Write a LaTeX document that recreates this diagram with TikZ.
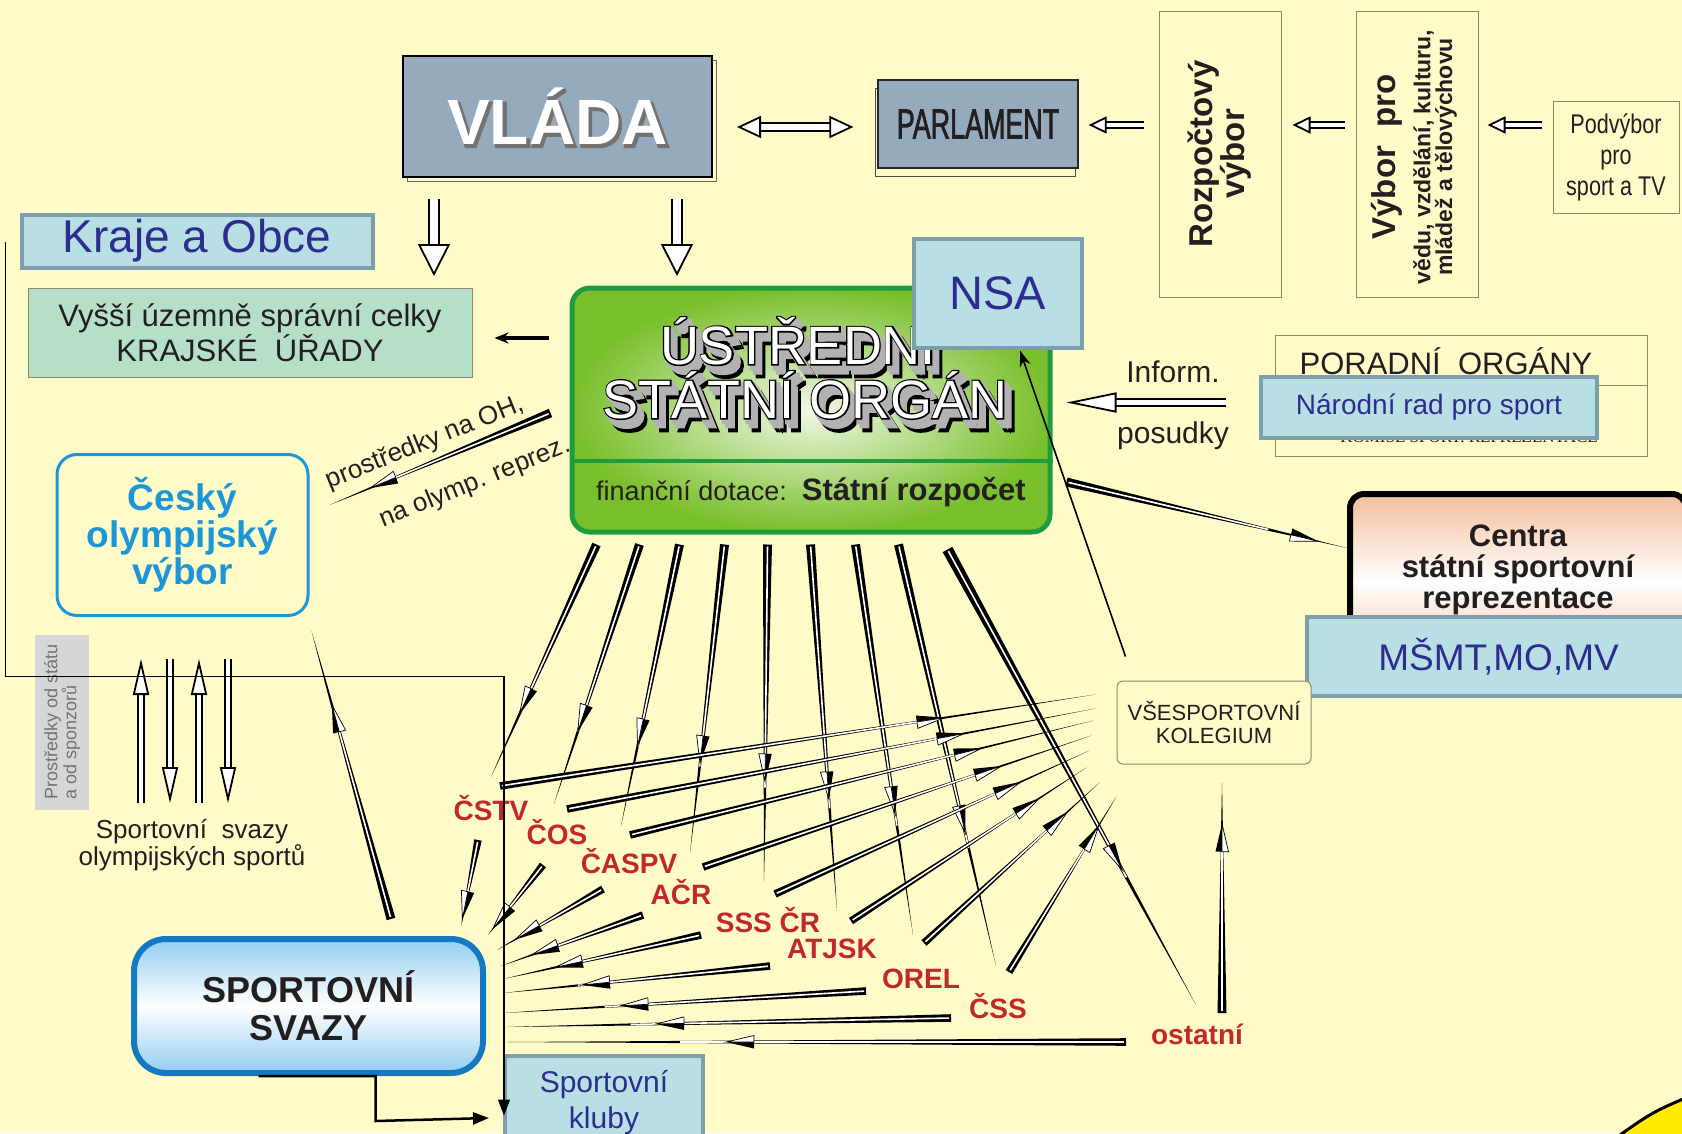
\documentclass[tikz,border=0pt]{standalone}
\usepackage{fontspec}
\setmainfont{Liberation Sans}
\newfontfamily\narrowfont{Liberation Sans}[FakeStretch=0.8]
\newfontfamily\parlfont{Liberation Sans}[FakeStretch=0.64, FakeBold=1.5]
\newfontfamily\komisefont{Liberation Serif}
\newfontfamily\vladarim{Liberation Sans}[FakeBold=4]
\newfontfamily\ustrim{Liberation Sans}[FakeBold=5]
\newfontfamily\ustdepth{Liberation Sans}[FakeBold=9]
\usetikzlibrary{arrows.meta,positioning,calc,shadows}

\definecolor{paper}{HTML}{FFFBC9}
\definecolor{vladagray}{HTML}{95ABBD}
\definecolor{cyanfill}{HTML}{B8E0E4}
\definecolor{cyanedge}{HTML}{7D9FAB}
\definecolor{inkblue}{HTML}{2E2C8F}
\definecolor{mintfill}{HTML}{B6DFC9}
\definecolor{boxolive}{HTML}{8C8A66}
\definecolor{ustgreen}{HTML}{79BF2B}
\definecolor{ustlight}{HTML}{F1F8E6}
\definecolor{ustedge}{HTML}{1E9C3E}
\definecolor{covblue}{HTML}{1B96D8}
\definecolor{svazblue}{HTML}{1479C3}
\definecolor{svazlight}{HTML}{93CDF1}
\definecolor{salmon}{HTML}{F4BE9D}
\definecolor{labred}{HTML}{C1272D}
\definecolor{ink}{HTML}{231F20}
\definecolor{sponsgray}{HTML}{D6D6D6}
\definecolor{corneryellow}{HTML}{FFEB00}

\newcommand{\fsz}[2]{\fontsize{#1}{#2}\selectfont}

% extruded title text
\newcommand{\blocktext}[2]{%
  \node[font=\ustdepth\fsz{54}{54}, text=black, inner sep=0] at ($(#1)+(9,11.7)$) {#2};
  \foreach \k in {6,3}{\node[font=\ustdepth\fsz{54}{54}, text=black!30, inner sep=0] at ($(#1)+(\k,\k*1.3)$) {#2};}
  \node[font=\ustrim\fsz{54}{54}, text=black, inner sep=0] at (#1) {#2};
  \node[ustfont, text=white] at (#1) {#2};}

% tapered arrow: half width, barb position, from, to
\newcommand{\needle}[4]{%
  \fill[black] ($(#3)!#1pt!90:(#4)$) -- (#4) -- ($(#3)!#1pt!-90:(#4)$) -- cycle;
  \draw[white, line width=1.6] ($(#3)!2pt!(#4)$) -- ($(#3)!0.72!(#4)$);
  \coordinate (nb) at ($(#3)!#2!(#4)$);
  \coordinate (nt) at ($(nb)!28pt!(#4)$);
  \fill[black] ($(nb)!6.5pt!90:(#4)$) -- (nt) -- (nb) -- cycle;
  \filldraw[fill=white, draw=black, line width=0.7] ($(nb)!6.5pt!-90:(#4)$) -- (nt) -- (nb) -- cycle;}

\begin{document}
\begin{tikzpicture}[x=1pt, y=-1pt,
    cyanbox/.style={draw=cyanedge, line width=4, fill=cyanfill, text=inkblue, inner sep=0},
    plainbox/.style={draw=boxolive, line width=1, fill=paper, text=ink, inner sep=0, align=center},
    redlabel/.style={text=labred, font=\bfseries\fsz{28}{28}, inner sep=0},
    ustfont/.style={font=\fsz{54}{54}, inner sep=0},
    hollow/.style={draw=black, line width=1.8, double=white, double distance=#1}
]
\useasboundingbox (0,0) rectangle (1682,1133);
\fill[paper] (0,0) rectangle (1682,1133);
\filldraw[fill=corneryellow, draw=black, line width=3] (1606,1145) .. controls (1652,1112) .. (1695,1094) -- (1695,1145) -- cycle;

% Government and parliament
\node[draw=black, line width=2, fill=vladagray, minimum width=309, minimum height=121,
  copy shadow={shadow xshift=4pt, shadow yshift=-4pt, fill=paper, draw=black!60, line width=0.8}] (vlada) at (557.5,116.5) {};
\node[font=\vladarim\bfseries\fsz{64}{64}, text=black!55, inner sep=0] (vladaS) at ($(vlada)+(2,2)$) {VLÁDA};
\node[font=\bfseries\fsz{64}{64}, text=white, inner sep=0] (vladaT) at (vlada) {VLÁDA};

\node[draw=black!85, line width=1.2, fill=vladagray, minimum width=200, minimum height=88,
  font=\parlfont\fsz{42}{42}, text=ink, inner sep=0,
  copy shadow={shadow xshift=-3pt, shadow yshift=-8pt, fill=paper, draw=black!70, line width=0.8}] (parl) at (978,124) {PARLAMENT};

\node[plainbox, minimum width=122, minimum height=286] (rozp) at (1220,154) {};
\node[rotate=90, font=\bfseries\fsz{33}{31}, align=center, text=ink, inner sep=0] (rozpT) at (rozp) {Rozpočtový\\výbor};

\node[plainbox, minimum width=122, minimum height=286] (vybor) at (1417,154) {};
\node[rotate=90, font=\bfseries\fsz{23}{19}, align=center, text=ink, inner sep=0] (vyborT) at (1414,157)
  {{\fsz{33}{33}Výbor~~pro}\\[10pt]vědu, vzdělání, kulturu,\\mládež a tělovýchovu};

\node[plainbox, minimum width=126, minimum height=112, font=\narrowfont\fsz{27}{31}] (podv) at (1616,157) {Podvýbor\\pro\\sport a TV};

\draw[hollow=6, {Triangle[fill=white,length=24pt,width=22pt]}-{Triangle[fill=white,length=24pt,width=22pt]}]
  ($(vlada.east |- parl.east)+(24,3)$) -- ($(parl.west)+(-24,3)$);
\draw[hollow=4, -{Triangle[fill=white,length=18pt,width=17pt]}] ($(rozp.west |- parl.east)+(-15,1)$) -- ($(parl.east)+(10,1)$);
\draw[hollow=4, -{Triangle[fill=white,length=18pt,width=17pt]}] ($(vybor.west |- parl.east)+(-11,1)$) -- ($(rozp.east |- parl.east)+(11,1)$);
\draw[hollow=4, -{Triangle[fill=white,length=18pt,width=17pt]}] ($(podv.west |- parl.east)+(-11,1)$) -- ($(vybor.east |- parl.east)+(9,1)$);

% Regions
\node[cyanbox, minimum width=351, minimum height=53, font=\fsz{46}{46}] (kraje) at (197,241) {Kraje a Obce};
\node[draw=boxolive, line width=1, fill=mintfill, minimum width=444, minimum height=89, font=\fsz{31}{35},
  align=center, text=ink, inner sep=0] (vyssi) at (250,333) {Vyšší územně správní celky\\KRAJSKÉ~~ÚŘADY};

% Central state body
\node[draw=ustedge, line width=5, rounded corners=18, inner color=ustlight, outer color=ustgreen,
  minimum width=478, minimum height=244] (ustr) at (811,410) {};
\draw[ustedge, line width=4] ($(ustr.south west)+(0,-74)$) -- ($(ustr.south east)+(0,-74)$);
\coordinate (ust1) at (798,341);
\coordinate (ust2) at (805,395);
\blocktext{ust1}{ÚSTŘEDNÍ}
\blocktext{ust2}{STÁTNÍ ORGÁN}
\node[font=\fsz{27}{27}, text=ink, inner sep=0] (dotace) at (811,492) {finanční dotace:~~{\bfseries\fsz{31}{31}Státní rozpočet}};

\draw[hollow=8, -{Triangle[fill=white,length=32pt,width=32pt]}] ($(vlada.south west)+(32,21)$) -- ($(vlada.south west)+(32,98)$);
\draw[hollow=8, -{Triangle[fill=white,length=32pt,width=32pt]}] ($(vlada.south east)+(-36,21)$) -- ($(vlada.south east)+(-36,98)$);
\draw[line width=4, -{Stealth[length=14pt,width=11pt]}] ($(ustr.west |- vyssi.east)+(-21,5)$) -- ($(vyssi.east)+(22,5)$);

\node[cyanbox, minimum width=168, minimum height=109, font=\fsz{47}{47}] (nsa) at (998,293) {NSA};

% Advisory bodies
\node[plainbox, minimum width=372, minimum height=121] (poradni) at (1461,395.5) {};
\draw[boxolive, line width=1] ($(poradni.north west)+(0,51)$) -- ($(poradni.north east)+(0,51)$);
\node[font=\fsz{31}{31}, text=ink, inner sep=0] (poradniT) at (1446,361) {PORADNÍ~~ORGÁNY};
\node[font=\komisefont\fsz{17}{17}, text=ink, inner sep=0] (komise) at (1469,437) {KOMISE SPORT. REPREZENTACE};
\node[cyanbox, minimum width=336, minimum height=61, font=\fsz{28}{28}] (narodni) at (1429,407) {Národní rad pro sport};
\node[font=\fsz{30}{30}, text=ink, inner sep=0] (inform) at (1173,372) {Inform.};
\node[font=\fsz{30}{30}, text=ink, inner sep=0, below=38pt of inform] (posudky) {posudky};
\draw[hollow=5, -{Triangle[fill=white,length=50pt,width=20pt]}] ($(poradni.west)+(-49,7)$) -- ($(ustr.east |- poradni.west)+(14,7)$);

% Representation centres
\node[draw=black, line width=6, rounded corners=14, top color=salmon, bottom color=salmon, middle color=white,
  minimum width=336, minimum height=176] (centra) at (1518,582) {};
\node[font=\bfseries\fsz{31}{31}, align=center, text=ink, inner sep=0] (centraT) at (1518,570) {Centra\\státní sportovní\\reprezentace};
\node[cyanbox, minimum width=383, minimum height=79, font=\fsz{37}{37}] (msmt) at (1498.5,656.5) {MŠMT,MO,MV};

\node[draw=boxolive, line width=1, rounded corners=6, fill=paper, minimum width=194, minimum height=83,
  font=\fsz{22}{23}, align=center, text=ink, inner sep=0] (koleg) at (1214,722.5) {VŠESPORTOVNÍ\\KOLEGIUM};
\draw[line width=1.6, -{Stealth[length=16pt,width=11pt]}] ($(koleg.north west)+(9,-24)$) -- ($(nsa.south)+(22,1)$);

% Olympic committee
\node[draw=covblue, line width=3, rounded corners=20, minimum width=251, minimum height=161,
  font=\bfseries\fsz{37}{37}, text=covblue, align=center] (cov) at (182.5,535) {Český\\olympijský\\výbor};
\node[font=\fsz{26}{26}, text=ink, rotate=22, inner sep=0] (ohtxt) at (425,443) {prostředky na OH,};
\node[font=\fsz{26}{26}, text=ink, rotate=22, inner sep=0] (repreztxt) at (475,483) {na olymp. reprez.};

\node[fill=sponsgray, rotate=90, minimum width=175, minimum height=54, font=\fsz{18}{19},
  text=black!55, align=left, inner sep=0] (spons) at (62,722) {Prostředky od státu\\a od sponzorů};
\foreach \dx in {-41.5,16.5}
  \draw[hollow=4, -{Triangle[fill=white,length=36pt,width=16pt]}] ($(cov.south)+(\dx,186)$) -- ($(cov.south)+(\dx,42)$);
\foreach \dx in {-12.5,45.5}
  \draw[hollow=4, -{Triangle[fill=white,length=36pt,width=16pt]}] ($(cov.south)+(\dx,42)$) -- ($(cov.south)+(\dx,186)$);
\node[font=\fsz{26}{26}, text=ink, align=center] (olymptxt) at (192,845) {Sportovní~~svazy\\olympijských sportů};

% Sport federations and clubs
\node[draw=svazblue, line width=6, rounded corners=32, top color=svazlight, bottom color=svazlight, middle color=white,
  minimum width=349, minimum height=134, font=\bfseries\fsz{36}{38}, align=center, text=ink] (svazy) at (308.5,1006) {SPORTOVNÍ\\SVAZY};
\node[cyanbox, minimum width=198, minimum height=95, font=\fsz{30}{36}, align=center] (kluby) at (604,1103) {Sportovní\\kluby};

% Anchor points of the umbrella organisations
\coordinate (cstv) at (491,808);
\coordinate (cos) at (557,832);
\coordinate (caspv) at (629,861);
\coordinate (acr) at (681,892);
\coordinate (sss) at (768,920);
\coordinate (atjsk) at (832,949);
\coordinate (orel) at (921,979);
\coordinate (css) at (998,1006);
\coordinate (ost) at (1197,1034);

% Funding from the state body
\foreach \lab/\dx/\ex/\ey in {cstv/27/0/-31, cos/70/-3/-28, caspv/110/-8/-35, acr/155/9/-39,
    sss/198/-4/-38, atjsk/241/5/-38, orel/286/-8/-44, css/329/-2/-40}{
  \coordinate (fa) at ($(ustr.south west)+(\dx,10)$);
  \coordinate (fb) at ($(\lab)+(\ex,\ey)$);
  \needle{4.5}{0.62}{fa}{fb}
}
\coordinate (fa) at ($(ustr.south west)+(378,15)$);
\coordinate (fb) at ($(ost)+(-1,-29)$);
\needle{5.5}{0.65}{fa}{fb}

% Links to the all-sport college
\foreach \lab/\sx/\sy/\ex/\ey in {cstv/9/-22/-21/-28, cos/10/-23/-21/-14, caspv/1/-26/-23/-2, acr/22/-25/-25/13,
    sss/7/-26/-27/28, atjsk/19/-28/-30/45, orel/3/-36/-17/60, css/11/-34/0/74}{
  \coordinate (fa) at ($(\lab)+(\sx,\sy)$);
  \coordinate (fb) at ($(koleg.west)+(\ex,\ey)$);
  \needle{3.8}{0.7}{fa}{fb}
}

% Down to the federations
\foreach \lab/\sx/\sy/\ex/\ey in {cstv/-13/32/-25/-80, cos/-14/33/2/-71, caspv/-26/28/11/-56, acr/-38/23/15/-40,
    sss/-67/15/17/-27, atjsk/-62/17/17/-13, orel/-55/12/17/7, css/-47/12/20/21, ost/-71/8/20/36}{
  \coordinate (fa) at ($(\lab)+(\sx,\sy)$);
  \coordinate (fb) at ($(svazy.east)+(\ex,\ey)$);
  \needle{3.8}{0.6}{fa}{fb}
}

% Other tapered links
\coordinate (fa) at ($(ustr.east)+(14,72)$);
\coordinate (fb) at ($(centra.west)+(0,-34)$);
\needle{4.5}{0.8}{fa}{fb}
\coordinate (fa) at ($(ustr.west)+(-19,3)$);
\coordinate (fb) at ($(cov.east)+(20,-30)$);
\needle{4.5}{0.7}{fa}{fb}
\coordinate (fa) at ($(svazy.north)+(82.5,-17)$);
\coordinate (fb) at ($(cov.south east)+(2,14)$);
\needle{4.5}{0.65}{fa}{fb}
\coordinate (fa) at ($(ost)+(25,-21)$);
\coordinate (fb) at ($(koleg.south)+(8,18)$);
\needle{4.5}{0.7}{fa}{fb}

% Umbrella organisations
\node[redlabel] (cstvT) at (cstv) {ČSTV};
\node[redlabel] (cosT) at (cos) {ČOS};
\node[redlabel] (caspvT) at (caspv) {ČASPV};
\node[redlabel] (acrT) at (acr) {AČR};
\node[redlabel] (sssT) at (sss) {SSS ČR};
\node[redlabel] (atjskT) at (atjsk) {ATJSK};
\node[redlabel] (orelT) at (orel) {OREL};
\node[redlabel] (cssT) at (css) {ČSS};
\node[redlabel] (ostT) at (ost) {ostatní};

% Regions to clubs, federations to clubs
\draw[line width=1.6, -{Triangle[length=16pt,width=12pt]}] ($(kraje.west)+(-14,1)$) |- ($(kluby.north west)+(1,-377)$) -- ($(kluby.north west)+(1,62)$);
\draw[line width=2.5, -{Triangle[length=16pt,width=12pt]}] ($(svazy.south)+(-50,0)$) -| ($(svazy.south)+(67,45)$) -- ($(kluby.west)+(-14,15)$);

\end{tikzpicture}
\end{document}
